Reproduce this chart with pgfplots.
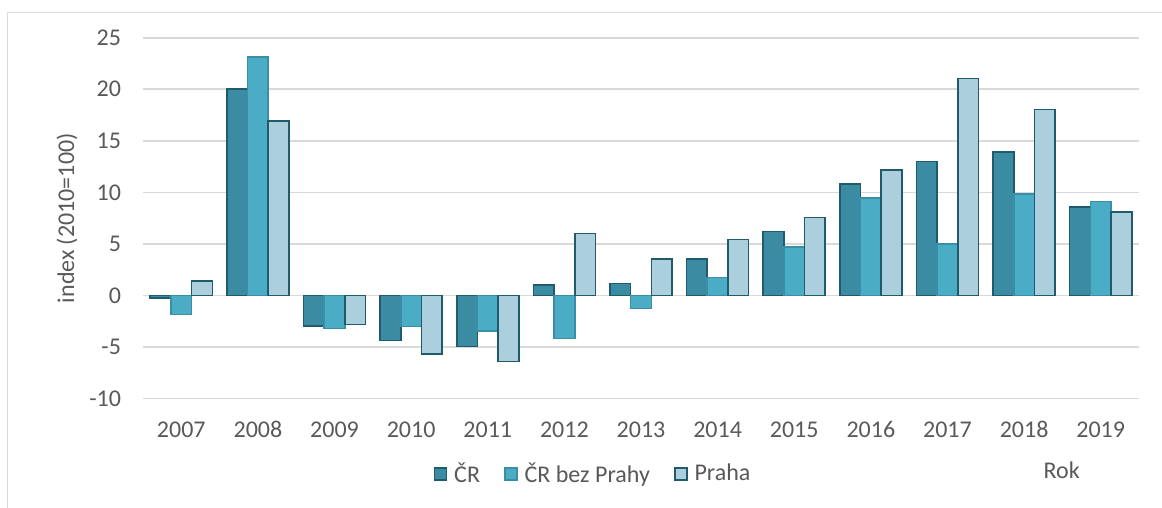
\documentclass[border=0pt]{standalone}
\usepackage{pgfplots}
\pgfplotsset{compat=1.18}
\usepackage{pgfplotstable}
\usepackage{fontspec}
\setmainfont{Carlito}
\definecolor{txt}{HTML}{595959}
\definecolor{gridc}{HTML}{D9D9D9}
\definecolor{crfill}{HTML}{3B8BA2}
\definecolor{crdraw}{HTML}{1F5B6C}
\definecolor{bzfill}{HTML}{4BACC6}
\definecolor{bzdraw}{HTML}{3A8FA7}
\definecolor{prfill}{HTML}{ABCFDD}
\definecolor{prdraw}{HTML}{215A6A}

\pgfplotstableread{
x y
0 -0.25
1 20.0
2 -2.95
3 -4.35
4 -4.95
5 1.0
6 1.15
7 3.55
8 6.2
9 10.8
10 13.0
11 13.9
12 8.6
}\dataCR
\pgfplotstableread{
x y
0 -1.85
1 23.1
2 -3.2
3 -3.0
4 -3.45
5 -4.15
6 -1.25
7 1.75
8 4.7
9 9.45
10 5.0
11 9.85
12 9.1
}\dataBZ
\pgfplotstableread{
x y
0 1.43
1 16.9
2 -2.8
3 -5.65
4 -6.4
5 6.0
6 3.55
7 5.45
8 7.55
9 12.15
10 21.05
11 18.05
12 8.1
}\dataPR

\begin{document}
\begin{tikzpicture}[x=1pt,y=1pt]
\useasboundingbox (0,0) rectangle (581,254);
\draw[color=gridc, line width=0.8pt] (3.75,-5) |- (590,247.75);
\begin{axis}[
  at={(71.5pt,54.65pt)}, anchor=south west,
  scale only axis, width=498pt, height=180.5pt,
  ymin=-10, ymax=25, ytick={-10,-5,...,25},
  xmin=-0.5, xmax=12.5,
  xtick={0,...,12},
  xticklabels={2007,2008,2009,2010,2011,2012,2013,2014,2015,2016,2017,2018,2019},
  ybar=0pt, bar width=10.35pt,
  axis line style={draw=none},
  major tick length=0pt,
  ymajorgrids, grid style={gridc, line width=0.8pt},
  /pgf/number format/assume math mode=true,
  tick label style={font=\fontsize{12}{14}\selectfont, text=txt},
  xticklabel style={anchor=base, yshift=-19.2pt},
  yticklabel style={xshift=-7.5pt},
  every axis y label/.style={at={(axis description cs:-0.0763,0.5)}, rotate=90, anchor=center},
  ylabel={index (2010=100)},
  label style={font=\fontsize{12}{14}\selectfont, text=txt},
  legend style={at={(axis description cs:0.4528,-0.2086)}, anchor=center, draw=none,
    font=\fontsize{12}{14}\selectfont, text=txt, legend columns=3,
    /tikz/every odd column/.append style={column sep=1.5pt},
    /tikz/every even column/.append style={column sep=10pt}},
  legend image code/.code={\draw[#1, line width=0.8pt] (0pt,-3pt) rectangle (6pt,3pt);},
  clip=false,
]
\addplot[fill=crfill, draw=crdraw, line width=0.8pt] table[x=x,y=y] {\dataCR};
\addplot[fill=bzfill, draw=bzdraw, line width=0.8pt] table[x=x,y=y] {\dataBZ};
\addplot[fill=prfill, draw=prdraw, line width=0.8pt] table[x=x,y=y] {\dataPR};
\legend{ČR, ČR bez Prahy, Praha}
\node[font=\fontsize{12}{14}\selectfont, text=txt, anchor=center] at (axis description cs:0.9224,-0.1975) {Rok};
\end{axis}
\end{tikzpicture}
\end{document}
